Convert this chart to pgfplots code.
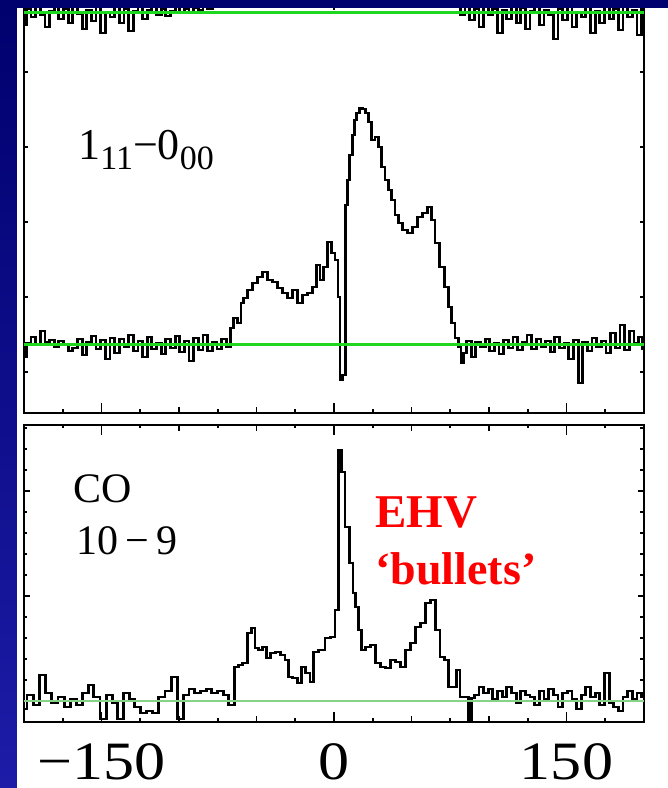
\documentclass[border=0pt]{standalone}
\usepackage{pgfplots}
\pgfplotsset{compat=1.18}
\usepackage{graphicx}
\usepackage{fontspec}
\setmainfont{Liberation Serif}
\definecolor{navytop}{RGB}{0,0,110}
\definecolor{navybot}{RGB}{28,28,168}
\definecolor{lineg}{RGB}{30,215,30}
\definecolor{paleg}{RGB}{135,210,135}
\definecolor{ehvred}{RGB}{255,0,0}
\newcommand\tl[1]{\scalebox{1.15}[1]{#1}}
\pgfplotsset{
  spec/.style={const plot mark mid, black, line width=1.4pt, mark=none, line join=miter},
  common/.style={scale only axis, width=310pt, xmin=-200, xmax=200,
    axis line style={line width=1pt, black},
    tick style={black, line width=0.9pt},
    tick align=inside,
    xtick={-150,0,150},
    minor xtick={-175,-125,-75,-25,25,75,125,175},
    major tick length=5pt, minor tick length=1.75pt,
    extra x ticks={-100,-50,50,100}, extra x tick labels={},
    extra x tick style={/pgfplots/major tick length=3pt},
    yticklabels={}, clip=true}
}
\begin{document}
\begin{tikzpicture}
\shade[top color=navytop, bottom color=navybot] (0pt,0pt) rectangle (334pt,394pt);
\fill[white] (8.5pt,0pt) rectangle (334pt,390pt);

% top panel: 1_11-0_00 and a second spectrum above (cropped)
\begin{axis}[common, at={(12pt,187.5pt)}, anchor=south west, height=206.5pt,
  ymin=-68, ymax=345, xticklabels={},
  ytick={-27,48,123,198,273},
  ytick style={/pgfplots/major tick length=2pt}]
\addplot[spec] coordinates {
(-200,-12) (-197,2) (-194,8) (-191,0) (-188,14) (-185,3) (-182,5) (-179,-2) (-176,4) (-173,0) (-170,-6) (-167,-3) (-164,6) (-161,-10) (-158,3) (-155,9) (-152,-4) (-149,5) (-146,-14) (-143,7) (-140,-8) (-137,6) (-134,-2) (-131,10) (-128,-6) (-125,4) (-122,-12) (-119,8) (-116,-4) (-113,2) (-110,-9) (-107,6) (-104,-3) (-101,9) (-98,-7) (-95,4) (-92,-16) (-89,7) (-86,-5) (-83,10) (-80,-6) (-77,3) (-74,-4) (-71,6) (-68,-2)
(-65.8,17) (-63.9,27) (-60.6,22) (-59.4,42) (-57.4,47) (-54.2,55) (-51,62) (-47.7,68) (-44.5,73) (-41.3,65) (-38,63) (-34.8,57) (-31.6,52) (-28.4,47) (-25.2,55) (-21.9,42) (-18.7,50) (-15.5,52) (-12.3,58) (-10.3,80) (-7.7,65) (-5.8,78) (-2.6,103) (-0.6,92) (1.9,85) (3.2,48) (4.5,-35) (6.5,-30)
(8.0,140) (9.5,165) (11,190) (12.5,210) (14,225) (15.5,232) (17.5,237) (19.5,236) (21.3,232) (23.2,223) (25.2,205) (27.7,208) (29.7,198) (31.6,178) (34.2,165) (36.1,155) (38.1,145) (40.6,130) (42.6,122) (45.8,115) (49,112) (52.3,118) (55.5,128) (58.7,132) (61.9,138) (63.9,125) (66.5,102) (69.7,78) (72.9,58) (74.8,38) (76.8,22) (79.4,7) (81.3,-2) (82.6,-18)
(84,-8) (87,4) (90,-12) (93,3) (96,-2) (99,6) (102,-6) (105,2) (108,-9) (111,5) (114,-3) (117,8) (120,-5) (123,3) (126,10) (129,-4) (132,6) (135,-2) (138,4) (141,-7) (144,8) (147,-3) (150,2) (153,-14) (156,5) (159,-38) (162,3) (165,-6) (168,7) (171,-2) (174,4) (177,-8) (180,12) (183,-3) (186,20) (189,-5) (192,14) (195,2) (198,8) (200,-4)
};
\addplot[spec] coordinates {
(-200,320) (-197,336) (-194,328) (-191,338) (-188,330) (-185,318) (-182,334) (-179,340) (-176,326) (-173,336) (-170,322) (-167,338) (-164,331) (-161,316) (-158,335) (-155,324) (-152,339) (-149,312) (-146,333) (-143,328) (-140,340) (-137,322) (-134,336) (-131,314) (-128,334) (-125,338) (-122,326) (-119,335) (-116,341) (-113,330) (-110,336) (-107,329) (-104,334) (-101,338) (-98,332) (-95,336) (-92,333) (-89,337) (-86,335) (-83,338) (-80,336) (-77,340) (-74,342) (-71,365) (-68,420) (-64,470) (-58,500) (0,560) (60,500) (72,440) (76,390) (79,350)
(80,338) (83,330) (86,342) (89,325) (92,336) (95,318) (98,340) (101,330) (104,336) (107,312) (110,335) (113,326) (116,340) (119,322) (122,337) (125,316) (128,334) (131,338) (134,320) (137,335) (140,330) (143,306) (146,336) (149,325) (152,340) (155,318) (158,333) (161,328) (164,339) (167,312) (170,334) (173,322) (176,338) (179,326) (182,336) (185,315) (188,340) (191,328) (194,335) (197,310) (200,338)
};
\addplot[lineg, line width=1.5pt] coordinates {(-200,0) (200,0)};
\addplot[lineg, line width=1.5pt] coordinates {(-200,332) (200,332)};
\end{axis}

% bottom panel: CO 10-9
\begin{axis}[common, at={(12pt,33pt)}, anchor=south west, height=148.5pt,
  ymin=-21, ymax=276,
  xticklabels={\tl{−150},\tl{0},\tl{150}},
  xticklabel style={text=black, font=\fontsize{27}{27}\selectfont, inner sep=0pt, yshift=-10.5pt},
  ytick={0,105,210}, minor ytick={-21,21,42,63,84,126,147,168,189,231,252,273},
  ytick style={/pgfplots/major tick length=3pt}]
\addplot[spec] coordinates {
(-200,-8) (-196,6) (-192,-4) (-188,26) (-184,8) (-180,-2) (-176,4) (-172,-6) (-168,2) (-164,-4) (-160,8) (-157,16) (-153,4) (-149,-18) (-145,6) (-141,-2) (-138,-18) (-134,8) (-130,2) (-127,-6) (-123,-12) (-119,-10) (-115,-12) (-111,4) (-107,10) (-103,24) (-99,-18) (-95,6) (-92,12) (-88,8) (-84,10) (-81,12) (-77,8) (-73,10) (-70,6) (-66,-4)
(-62.6,34) (-60.6,36) (-57.4,38) (-54.2,68) (-52.3,73) (-49.7,53) (-47.7,51) (-44.5,54) (-42.6,43) (-39.4,48) (-36.1,49) (-32.9,46) (-30.3,41) (-28.4,24) (-25.2,23) (-21.9,18) (-20,34) (-16.8,28) (-14.2,19) (-12.3,49) (-7.7,51) (-3.9,63) (-0.6,64) (1.9,91) (3.9,251) (5.8,229) (8.4,174) (11.6,138) (12.9,108) (14.8,94) (16.8,71) (18.7,51) (21.9,54) (25.2,56) (28.4,38) (31.6,34) (34.8,33) (38.1,41) (41.3,39) (44.5,34) (47.7,51) (51,58) (54.2,74) (57.4,78) (60.6,98) (63.9,101) (67.1,71) (69.7,44) (72.9,41) (74.8,14) (78.1,14) (80,31) (82.6,4) (85.8,4) (87.7,-19) (89.7,3)
(92,6) (95,14) (98,8) (101,12) (104,2) (107,10) (110,4) (113,14) (116,8) (119,-2) (122,10) (125,6) (128,4) (131,-4) (134,10) (137,2) (140,12) (143,6) (146,-6) (149,8) (152,10) (155,2) (158,-8) (161,6) (164,14) (167,4) (170,8) (173,-4) (176,28) (179,-2) (182,-6) (185,-10) (188,4) (191,10) (194,2) (197,8) (200,4)
};
\addplot[paleg, line width=1.1pt] coordinates {(-200,0) (200,0)};
\end{axis}

% labels
\node[anchor=base west, inner sep=0pt] at (39pt,314pt) {\fontsize{22}{22}\selectfont 1\raisebox{-5pt}{\fontsize{17}{17}\selectfont 11}−0\raisebox{-5pt}{\fontsize{17}{17}\selectfont 00}};
\node[anchor=base west, inner sep=0pt] at (36.5pt,142.5pt) {\fontsize{21}{21}\selectfont CO};
\node[anchor=base west, inner sep=0pt] at (38pt,116.5pt) {\fontsize{21}{21}\selectfont 10\,−\,9};
\node[anchor=base west, inner sep=0pt, text=ehvred] at (187.5pt,130pt) {\fontsize{23.5}{23.5}\selectfont\bfseries EHV};
\node[anchor=base west, inner sep=0pt, text=ehvred] at (187.5pt,101.5pt) {\fontsize{23}{23}\selectfont\bfseries ‘bullets’};

\fill[navytop] (0pt,390pt) rectangle (334pt,394pt);
\pgfresetboundingbox
\useasboundingbox (0pt,0pt) rectangle (334pt,394pt);
\end{tikzpicture}
\end{document}
